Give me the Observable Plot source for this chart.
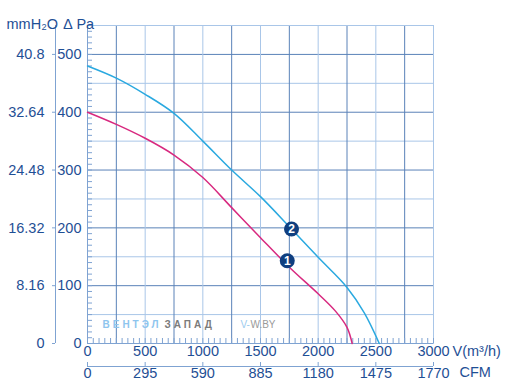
<!DOCTYPE html>
<html><head><meta charset="utf-8">
<script src="https://cdn.jsdelivr.net/npm/d3@7"></script>
<script src="https://cdn.jsdelivr.net/npm/@observablehq/plot@0.6"></script>
<style>body{margin:0;background:#fff}</style>
</head><body><div id="chart"></div>
<script>
// ---- data ----
const flowTicks = [0, 500, 1000, 1500, 2000, 2500, 3000];
const cfmLabels = ["0", "295", "590", "885", "1180", "1475", "1770"];
const paTicks = [0, 100, 200, 300, 400, 500];
const mmLabels = ["0", "8.16", "16.32", "24.48", "32.64", "40.8"];

const curve1Flow = [0, 250, 500, 750, 1000, 1250, 1500, 1750, 2000, 2150, 2250, 2295];
const curve1Pa   = [400, 379, 355, 326, 287, 235, 183, 132, 86, 56, 28, 0];

const curve2Flow = [0, 250, 500, 750, 1000, 1250, 1500, 1750, 2000, 2250, 2400, 2530];
const curve2Pa   = [480, 459, 431, 398, 350, 300, 254, 202, 149, 97, 53, 0];

const markerFlow = [1732, 1769];
const markerPa   = [143, 198];
const markerText = ["1", "2"];

const gridX = d3.range(250, 3000, 250);
const gridY = d3.range(50, 550, 50);

// ---- styles ----
const navy = "#1f4f95";
const darkGrid = "#5a82b8";
const lightGrid = "#a9c6e8";
const midLine = "#7fa3d2";
const fs = 14.5;

const chart = Plot.plot({
  width: 509, height: 392,
  marginLeft: 87, marginRight: 76, marginTop: 25, marginBottom: 49,
  x: {domain: [0, 3000]},
  y: {domain: [0, 550]},
  style: {fontFamily: "'Liberation Sans', Arial, sans-serif", fontSize: "13px", color: navy, background: "#fff"},
  marks: [
    // grid
    Plot.ruleY(gridY.filter(v => v % 100 !== 0), {stroke: lightGrid}),
    Plot.ruleY(gridY.filter(v => v % 100 === 0), {stroke: darkGrid}),
    Plot.ruleX(gridX.filter((v, i) => i % 2 === 1), {stroke: lightGrid}),
    Plot.ruleX(gridX.filter((v, i) => i % 2 === 0), {stroke: darkGrid}),
    Plot.frame({stroke: lightGrid}),
    Plot.ruleX([0], {stroke: midLine}),
    Plot.ruleY([0], {stroke: midLine}),
    // minor ticks inside
    Plot.axisY({ticks: d3.range(0, 551, 10), tickSize: 5, dx: 5, tickFormat: () => "", stroke: midLine}),
    Plot.axisX({anchor: "bottom", ticks: d3.range(0, 3001, 50), tickSize: 5, dy: -5, tickFormat: () => "", stroke: midLine}),
    // CFM axis line and ticks
    Plot.ruleY([0], {dy: 23, stroke: midLine}),
    Plot.axisX({anchor: "bottom", ticks: flowTicks, tickSize: 4, dy: 19, tickFormat: () => "", stroke: midLine}),
    // mmH2O axis line and ticks
    Plot.ruleX([0], {dx: -32, stroke: midLine}),
    Plot.axisY({ticks: paTicks, tickSize: 3, dx: -32, tickFormat: () => "", stroke: midLine}),
    // labels
    Plot.text(paTicks, {y: d => d, text: d => String(d), frameAnchor: "left", textAnchor: "end", dx: -6, fill: navy, fontSize: fs}),
    Plot.text(paTicks, {y: d => d, text: (d, i) => mmLabels[i], frameAnchor: "left", textAnchor: "end", dx: -43, fill: navy, fontSize: fs}),
    Plot.text(flowTicks, {x: d => d, text: d => String(d), frameAnchor: "bottom", dy: 12, fill: navy, fontSize: fs}),
    Plot.text(flowTicks, {x: d => d, text: (d, i) => cfmLabels[i], frameAnchor: "bottom", dy: 34, fill: navy, fontSize: fs}),
    Plot.text([3000], {x: d => d, text: ["V(m³/h)"], frameAnchor: "bottom", dy: 12, dx: 19, textAnchor: "start", fill: navy, fontSize: fs}),
    Plot.text([3000], {x: d => d, text: ["CFM"], frameAnchor: "bottom", dy: 33, dx: 26, textAnchor: "start", fill: navy, fontSize: fs}),
    Plot.text(["mmH₂O"], {frameAnchor: "top-left", dx: -81, dy: -7, textAnchor: "start", fill: navy, fontSize: 14.5}),
    Plot.text(["∆ Pa"], {frameAnchor: "top-left", dx: -24, dy: -7, textAnchor: "start", fill: navy, fontSize: 14.5}),
    // watermark
    Plot.text(["ВЕНТЭЛ"], {frameAnchor: "bottom-left", dx: 15, dy: -16, textAnchor: "start", fill: "#8ec5ee", fontSize: 10, fontWeight: "bold"}),
    Plot.text(["ЗАПАД"], {frameAnchor: "bottom-left", dx: 77, dy: -16, textAnchor: "start", fill: "#7b7b7b", fontSize: 10, fontWeight: "bold"}),
    Plot.text(["V-"], {frameAnchor: "bottom-left", dx: 153, dy: -16, textAnchor: "start", fill: "#9ccbee", fontSize: 10}),
    Plot.text(["W.BY"], {frameAnchor: "bottom-left", dx: 163, dy: -16, textAnchor: "start", fill: "#9a9a9a", fontSize: 10}),
    // curves
    Plot.line(curve1Flow, {x: d => d, y: (d, i) => curve1Pa[i], stroke: "#d8297f", strokeWidth: 1.5, curve: "catmull-rom"}),
    Plot.line(curve2Flow, {x: d => d, y: (d, i) => curve2Pa[i], stroke: "#2aa9e0", strokeWidth: 1.5, curve: "catmull-rom"}),
    // markers
    Plot.dot(markerFlow, {x: d => d, y: (d, i) => markerPa[i], r: 7.5, fill: "#0f3f80", stroke: "none"}),
    Plot.text(markerFlow, {x: d => d, y: (d, i) => markerPa[i], text: (d, i) => markerText[i], fill: "#fff", fontWeight: "bold", fontSize: 12})
  ]
});
chart.querySelectorAll("text").forEach(t => {
  if (t.textContent === "ВЕНТЭЛ" || t.textContent === "ЗАПАД") t.setAttribute("letter-spacing", "3");
});
document.getElementById("chart").appendChild(chart);
</script>
</body></html>
